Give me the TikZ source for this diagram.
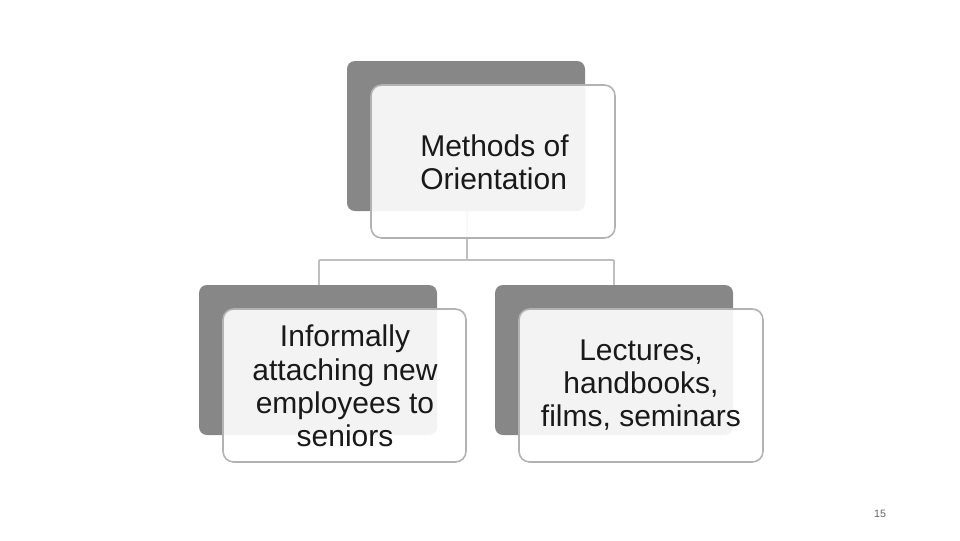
\documentclass[tikz,border=0pt]{standalone}
\usepackage{fontspec}
\setmainfont{Liberation Sans}
\begin{document}
\begin{tikzpicture}[x=0.75pt,y=-0.75pt,
  back/.style={fill=black!47,draw=none,rounded corners=6pt},
  front/.style={fill=white,fill opacity=0.9,draw=black!30,line width=1.2pt,rounded corners=8pt,text opacity=1},
  lbl/.style={font=\fontsize{22.5}{25}\selectfont,align=center,text=black!90},
  conn/.style={draw=black!25,line width=1.2pt}]
\path[use as bounding box] (0,0) rectangle (960,540);
% connectors
\coordinate (tb) at (467,211);
\coordinate (hl) at (319,260);
\coordinate (hr) at (614,260);
\draw[conn] (tb) -- (467,260) (hl) -- (hr) (hl) -- (319,285) (hr) -- (614,285);
% top
\fill[back] (347,61) rectangle (585,211);
\draw[front] (371,85) rectangle (615,238);
\node[lbl,align=left,anchor=west,inner sep=0pt] (top) at (420,162) {Methods of\\Orientation};
% left
\fill[back] (199,285) rectangle (437,435);
\draw[front] (223,309) rectangle (466,462);
\node[lbl] (left) at (345,386) {Informally\\attaching new\\employees to\\seniors};
% right
\fill[back] (495,285) rectangle (733,435);
\draw[front] (519,309) rectangle (763,462);
\node[lbl] (right) at (641,385) {Lectures,\\handbooks,\\films, seminars};
\node[font=\fontsize{8}{10}\selectfont,text=black!60] (pg) at (880,514) {15};
\end{tikzpicture}
\end{document}
